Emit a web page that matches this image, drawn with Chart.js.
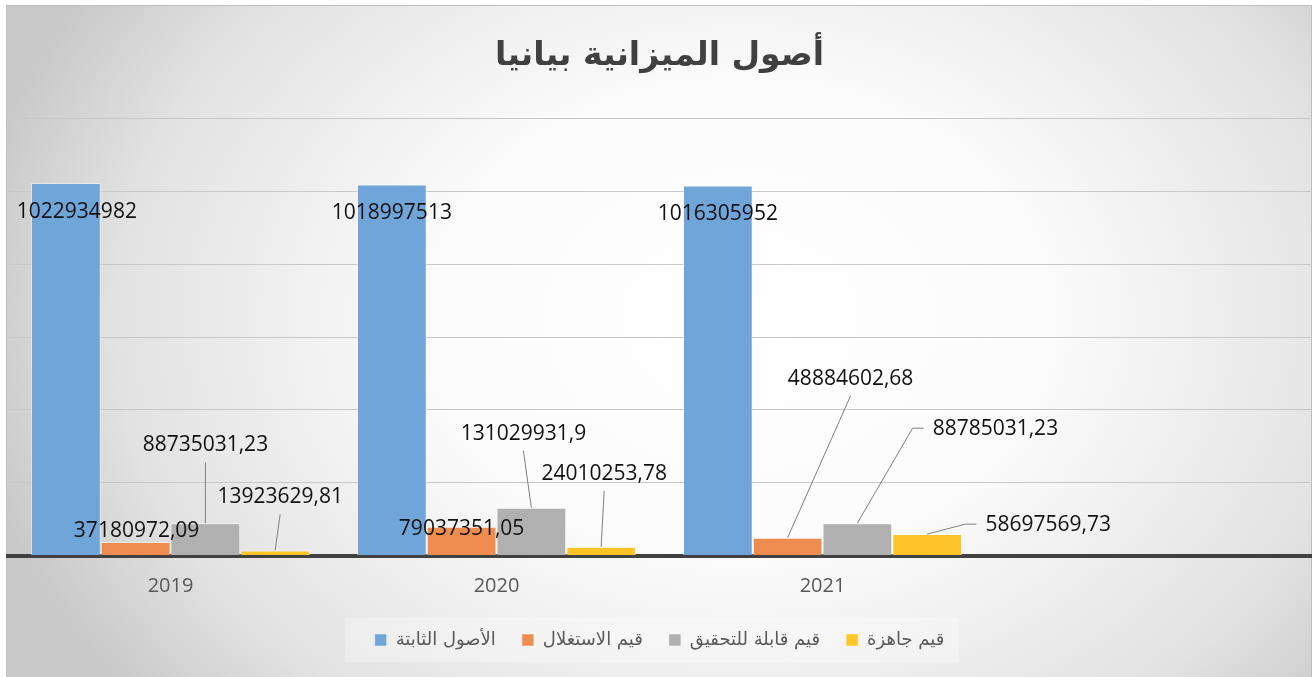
<!DOCTYPE html>
<html>
<head>
<meta charset="utf-8">
<script src="https://cdn.jsdelivr.net/npm/chart.js"></script>
<style>
  html, body { margin: 0; padding: 0; background: #fff; }
  #wrap { position: relative; width: 1312px; height: 677px; }
</style>
</head>
<body>
<div id="wrap"><canvas id="barChart"></canvas></div>
<script>
const years = ['2019', '2020', '2021', ''];
const seriesNames = ['الأصول الثابتة', 'قيم الاستغلال', 'قيم قابلة للتحقيق', 'قيم جاهزة'];
const fixedAssets = [1022934982, 1018997513, 1016305952];
const operatingValues = [37180972.09, 79037351.05, 48884602.68];
const realizableValues = [88735031.23, 131029931.9, 88785031.23];
const readyValues = [13923629.81, 24010253.78, 58697569.73];
const yMax = 1200000000;
const yStep = 200000000;

const colors = ['#6fa5d9', '#ee8d4f', '#b0b0b0', '#ffc528'];

// where each value label sits, relative to the top of its bar: [dx, dy, leader]
const labelPlace = [
  [[11, 29, ''], [0, 29, ''], [0, 29, '']],
  [[1, -11, ''], [0, 2, ''], [63, -159, 'down']],
  [[0, -78, 'down'], [-8, -74, 'down'], [138, -94, 'side']],
  [[5, -53, 'down'], [3, -73, 'down'], [121, -9, 'side']]
];

const frameBg = {
  id: 'frameBg',
  beforeDraw(chart) {
    const ctx = chart.ctx;
    const w = chart.width, h = chart.height;
    ctx.save();
    ctx.fillStyle = '#ffffff';
    ctx.fillRect(0, 0, w, h);
    ctx.beginPath();
    ctx.rect(7, 6, w - 7, h - 6);
    ctx.clip();
    ctx.translate(740, 320);
    ctx.scale(1.3, 1);
    const g = ctx.createRadialGradient(0, 0, 0, 0, 0, 600);
    g.addColorStop(0, '#ffffff');
    g.addColorStop(0.4, '#fbfbfb');
    g.addColorStop(0.8, '#e2e2e2');
    g.addColorStop(1, '#c9c9c9');
    ctx.fillStyle = g;
    ctx.fillRect(-2000, -2000, 4000, 4000);
    ctx.restore();

    ctx.save();
    ctx.strokeStyle = '#bdbdbd';
    ctx.lineWidth = 1;
    ctx.strokeRect(6.5, 5.5, w - 7, h);
    // light strip behind the legend
    const boxes = chart.legend && chart.legend.legendHitBoxes;
    if (boxes && boxes.length) {
      const left = boxes[0].left - 30;
      const last = boxes[boxes.length - 1];
      const right = last.left + last.width + 15;
      const cy = boxes[0].top + boxes[0].height / 2;
      ctx.fillStyle = 'rgba(255,255,255,0.3)';
      ctx.fillRect(left, cy - 22, right - left, 44);
    }
    ctx.restore();
  }
};

const valueLabels = {
  id: 'valueLabels',
  afterDatasetsDraw(chart) {
    const ctx = chart.ctx;
    ctx.save();
    ctx.font = '21px "Open Sans"';
    ctx.textAlign = 'center';
    ctx.textBaseline = 'middle';
    chart.data.datasets.forEach((ds, i) => {
      chart.getDatasetMeta(i).data.forEach((bar, j) => {
        const p = labelPlace[i][j];
        const lx = bar.x + p[0];
        const ly = bar.y + p[1];
        const text = String(ds.data[j]).replace('.', ',');
        const tw = ctx.measureText(text).width;
        ctx.strokeStyle = '#808080';
        ctx.lineWidth = 1;
        if (p[2] === 'down') {
          ctx.beginPath();
          ctx.moveTo(lx, ly + 17);
          ctx.lineTo(bar.x, bar.y);
          ctx.stroke();
        } else if (p[2] === 'side') {
          const sx = lx - tw / 2 - 9;
          ctx.beginPath();
          ctx.moveTo(sx, ly - 1);
          ctx.lineTo(sx - 11, ly - 1);
          ctx.lineTo(bar.x, bar.y);
          ctx.stroke();
        }
        ctx.fillStyle = '#111111';
        ctx.fillText(text, lx, ly);
      });
    });
    ctx.restore();
  }
};

const barChart = new Chart(document.getElementById('barChart'), {
  type: 'bar',
  data: {
    labels: years,
    datasets: [fixedAssets, operatingValues, realizableValues, readyValues].map((d, i) => ({
      label: seriesNames[i],
      data: d,
      backgroundColor: colors[i],
      borderColor: 'rgba(255,255,255,0.45)',
      borderWidth: 1,
      barPercentage: 1,
      categoryPercentage: 0.856
    }))
  },
  options: {
    responsive: true,
    maintainAspectRatio: false,
    animation: false,
    layout: { padding: { left: 7.5, right: 0.5, top: 6, bottom: 18 } },
    plugins: {
      tooltip: { enabled: false },
      title: {
        display: true,
        text: 'أصول الميزانية بيانيا',
        color: '#404040',
        font: { family: 'DejaVu Sans', size: 33, weight: 'bold' },
        padding: { top: 30.6, bottom: 42.3 }
      },
      legend: {
        display: true,
        position: 'bottom',
        labels: {
          boxWidth: 12,
          boxHeight: 12,
          padding: 26,
          color: '#595959',
          font: { family: 'DejaVu Sans', size: 18 }
        }
      }
    },
    scales: {
      x: {
        grid: { display: false, drawTicks: false },
        border: { display: true, color: '#404040', width: 4 },
        ticks: { color: '#595959', padding: 18.5, font: { family: 'Open Sans', size: 20 } },
        afterFit(scale) { scale.height = 49.5; }
      },
      y: {
        min: 0,
        max: yMax,
        grid: { color: '#c8c8c8', lineWidth: 1, drawTicks: false },
        border: { display: false },
        ticks: { display: false, stepSize: yStep }
      }
    }
  },
  plugins: [frameBg, valueLabels]
});
</script>
</body>
</html>
